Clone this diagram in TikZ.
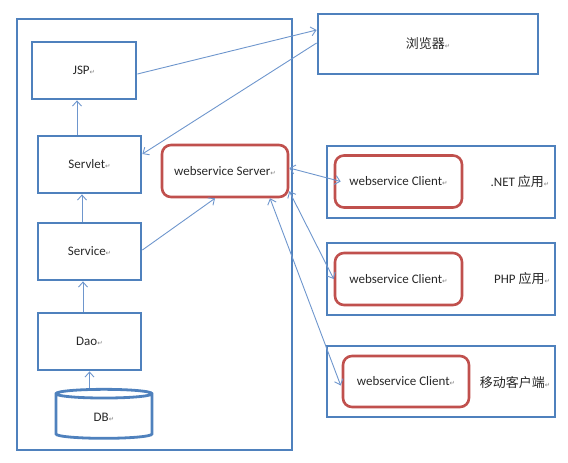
\documentclass[tikz,border=0pt]{standalone}
\usepackage{fontspec}
\setmainfont{Carlito}
\newfontfamily\cjk{Noto Sans CJK SC}
\newfontfamily\symb{DejaVu Sans}
\usetikzlibrary{arrows.meta,shapes.geometric}
\definecolor{boxblue}{RGB}{79,129,189}
\definecolor{wsred}{RGB}{192,80,77}
\definecolor{lineblue}{RGB}{110,150,205}
\definecolor{txt}{RGB}{40,40,40}
\newcommand{\ret}{{\symb\fontsize{6.5}{6.5}\selectfont\textcolor{gray}{↵}}}

\begin{document}
\begin{tikzpicture}[x=1pt,y=-1pt,
  font=\fontsize{13}{15}\selectfont,text=txt,
  blk/.style={draw=boxblue,line width=2.8pt,minimum width=103pt,minimum height=57pt},
  ws/.style={draw=wsred,line width=2.6pt,rounded corners=9pt,minimum width=127pt,minimum height=52pt},
  sys/.style={draw=boxblue,line width=2.8pt,minimum width=228pt,minimum height=72pt},
  link/.style={draw=lineblue,line width=0.9pt,-{Straight Barb[length=5pt,width=9pt]}},
  both/.style={link,{Straight Barb[length=5pt,width=9pt]}-{Straight Barb[length=5pt,width=9pt]}}]
  \useasboundingbox (0,0) rectangle (568,463);

  % java web application
  \node[draw=boxblue,line width=2.8pt,minimum width=275pt,minimum height=431pt] (app) at (154.5,234.5) {};
  \node[blk,minimum width=104pt] (jsp) at (84,70.5) {JSP\ret};
  \node[blk] (servlet) at (89.5,164.5) {Servlet\ret};
  \node[blk] (service) at (89.5,251.5) {Service\ret};
  \node[blk] (dao) at (89.5,341.5) {Dao\ret};
  \node[draw=boxblue,line width=2.8pt,cylinder,shape border rotate=90,aspect=0.32,
        minimum width=96pt,minimum height=49pt] (db) at (104,417.5) {DB\ret};
  \node[ws,minimum width=126pt] (server) at (225,171) {webservice Server\ret};

  % browser and clients
  \node[draw=boxblue,line width=2.8pt,minimum width=220pt,minimum height=60pt] (browser) at (428,44) {\cjk 浏览器\ret};
  \node[sys] (net) at (441,182) {};
  \node[ws] (client1) at (398.5,181.5) {webservice Client\ret};
  \node (netlbl) at (520,182) {.NET {\cjk 应用}\ret};
  \node[sys] (php) at (441,279) {};
  \node[ws] (client2) at (398.5,279) {webservice Client\ret};
  \node (phplbl) at (522,279) {PHP {\cjk 应用}\ret};
  \node[sys,minimum height=71pt] (mobile) at (441,381.5) {};
  \node[ws,minimum width=126pt,minimum height=51pt] (client3) at (406,381.5) {webservice Client\ret};
  \node (moblbl) at (515,383) {\cjk 移动客户端\ret};

  % connectors
  \draw[link] ([yshift=-3.5pt]jsp.east) -- ([yshift=14pt]browser.west);
  \draw[link] ([yshift=1pt]browser.west) -- ([yshift=10.5pt]servlet.east);
  \draw[link] ([xshift=-12.5pt]servlet.north) -- ([xshift=-7pt]jsp.south);
  \draw[link] ([xshift=-7.5pt]service.north) -- ([xshift=-7.5pt]servlet.south);
  \draw[link] ([xshift=-6.5pt]dao.north) -- ([xshift=-6.5pt]service.south);
  \draw[link] (db.north -| dao.south) -- (dao.south);
  \draw[link] ([yshift=1.5pt]service.east) -- ([xshift=-10pt]server.south);
  \draw[both] ([yshift=3pt]server.east) -- ([xshift=7pt]client1.west);
  \draw[both] ([yshift=7pt]server.south east) -- (client2.west);
  \draw[both] ([xshift=45pt]server.south) -- ([xshift=-1pt,yshift=-4pt]client3.west);
\end{tikzpicture}
\end{document}
